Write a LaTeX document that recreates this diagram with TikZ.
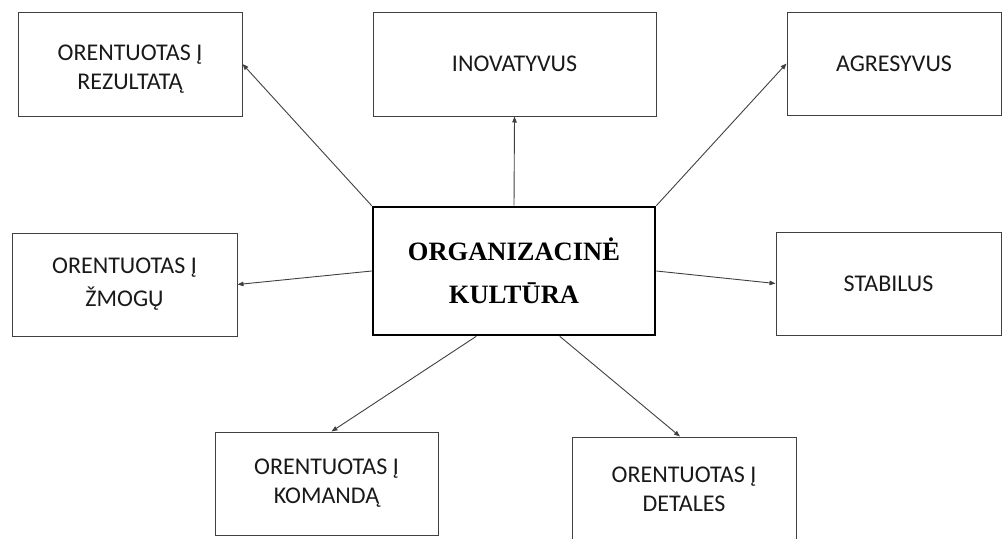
\documentclass[tikz,border=0pt]{standalone}
\usepackage{fontspec}
\setmainfont{Carlito}
\newfontfamily\titlefont{Liberation Serif}
\usetikzlibrary{arrows.meta}

\begin{document}
\begin{tikzpicture}[x=1pt, y=-1pt,
    typebox/.style={draw=black!75, line width=1pt, align=center, inner sep=0pt,
        font=\fontsize{24}{29}\selectfont, text=black!90},
    corebox/.style={draw=black, line width=2.6pt, align=center, inner sep=0pt,
        minimum width=282pt, minimum height=128pt,
        font=\titlefont\bfseries\fontsize{26.5}{43}\selectfont},
    link/.style={draw=black!75, line width=0.9pt, -{Triangle[length=6pt, width=4.5pt]}}
]

% Page frame
\useasboundingbox (0,0) rectangle (1003,538);
\clip (0,0) rectangle (1003,538);

% Central box
\node[corebox] (cult) at (514,271) {ORGANIZACINĖ\\KULTŪRA};

% Culture types
\node[typebox, minimum width=224pt, minimum height=104pt] (res) at (130,64) {\rule{0pt}{25pt}ORENTUOTAS Į\\REZULTATĄ};
\node[typebox, minimum width=283pt, minimum height=104pt] (inov) at (514.5,64) {INOVATYVUS};
\node[typebox, minimum width=214pt, minimum height=103pt] (agr) at (894,63.5) {AGRESYVUS};
\node[typebox, minimum width=225pt, minimum height=103pt] (zmog) at (124.5,284.5) {ORENTUOTAS Į\\[4pt]ŽMOGŲ};
\node[typebox, minimum width=225pt, minimum height=103pt] (stab) at (888.5,283.5) {STABILUS};
\node[typebox, minimum width=223pt, minimum height=103pt] (kom) at (326.5,483.5) {ORENTUOTAS Į\\KOMANDĄ};
\node[typebox, minimum width=224pt, minimum height=104pt] (det) at (684,489) {ORENTUOTAS Į\\DETALES};

% Arrows from the centre
\draw[link] (cult.north west) -- (res.east);
\draw[link] (cult.north) -- (inov.south);
\draw[link] (cult.north east) -- (agr.west);
\draw[link] (cult.west) -- (zmog.east);
\draw[link] (cult.east) -- (stab.west);
\draw[link] (cult.240) -- ([xshift=5pt]kom.north);
\draw[link] (cult.305) -- ([xshift=-4pt]det.north);

\end{tikzpicture}
\end{document}
